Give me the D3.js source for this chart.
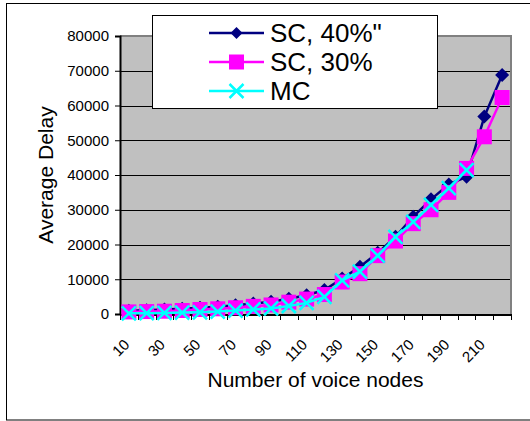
<!DOCTYPE html>
<html>
<head>
<meta charset="utf-8">
<script src="https://cdn.jsdelivr.net/npm/d3@7"></script>
<style>
  html, body { margin: 0; padding: 0; background: #fff; }
  svg { display: block; font-family: "Liberation Sans", Arial, sans-serif; }
</style>
</head>
<body>
<svg id="chart" width="530" height="421"></svg>
<script>
// ---- data ----
const categories = [10, 20, 30, 40, 50, 60, 70, 80, 90, 100, 110, 120, 130, 140, 150, 160, 170, 180, 190, 200, 210, 220];
const sc40 = [900, 1100, 1300, 1500, 1800, 2100, 2500, 3000, 3500, 4400, 5400, 6900, 10200, 13600, 17600, 22200, 28000, 33000, 37300, 39500, 56800, 68800];
const sc30 = [600, 700, 800, 1000, 1300, 1500, 1800, 2200, 2600, 3400, 4300, 5600, 9200, 11600, 16800, 21000, 26000, 30000, 35000, 41900, 51000, 62300];
const mc   = [200, 250, 300, 400, 500, 700, 1000, 1300, 1600, 2300, 3200, 4900, 9700, 12200, 16800, 22200, 26500, 31400, 36200, 41400, null, null];
const seriesNames = ['SC, 40%"', 'SC, 30%', 'MC'];
const yTicks = [0, 10000, 20000, 30000, 40000, 50000, 60000, 70000, 80000];
const xTickLabels = [10, 30, 50, 70, 90, 110, 130, 150, 170, 190, 210];

const series = [
  { name: seriesNames[0], values: sc40, color: '#000080', marker: 'diamond' },
  { name: seriesNames[1], values: sc30, color: '#FF00FF', marker: 'square' },
  { name: seriesNames[2], values: mc,   color: '#00FFFF', marker: 'x' }
];

const svg = d3.select('#chart');
const plot = { left: 120, right: 511, top: 36, bottom: 314 };

const x = d3.scaleBand().domain(categories).range([plot.left, plot.right]).padding(0);
const y = d3.scaleLinear().domain([0, 80000]).range([plot.bottom, plot.top]);
const cx = d => x(d) + x.bandwidth() / 2;

// outer frame
svg.append('rect').attr('x', 6.5).attr('y', 3.5).attr('width', 530).attr('height', 416.5)
  .attr('fill', '#fff').attr('stroke', '#000').attr('stroke-width', 1);

// plot background
svg.append('rect').attr('x', plot.left).attr('y', plot.top)
  .attr('width', plot.right - plot.left).attr('height', plot.bottom - plot.top)
  .attr('fill', '#C0C0C0');

// gridlines
svg.append('g').selectAll('line').data(yTicks.filter(t => t > 0 && t < 80000)).join('line')
  .attr('x1', plot.left).attr('x2', plot.right)
  .attr('y1', d => Math.round(y(d)) + 0.5).attr('y2', d => Math.round(y(d)) + 0.5)
  .attr('stroke', '#000').attr('stroke-width', 1);

// plot border top/right gray
svg.append('path')
  .attr('d', `M${plot.left},${plot.top} H${plot.right} V${plot.bottom}`)
  .attr('fill', 'none').attr('stroke', '#808080').attr('stroke-width', 2);

// y axis
const yAxis = d3.axisLeft(y).tickValues(yTicks).tickSize(5).tickPadding(6).tickFormat(d3.format('d'));
const yg = svg.append('g').attr('transform', `translate(${plot.left},0)`).call(yAxis);
yg.select('.domain').attr('stroke', '#000').attr('stroke-width', 2);
yg.selectAll('.tick line').attr('stroke', '#000');
yg.selectAll('.tick text').attr('font-size', 15).attr('fill', '#000')
  .attr('font-family', '"Liberation Sans", Arial, sans-serif');

// x axis line and ticks (ticks at category boundaries)
svg.append('line').attr('x1', plot.left).attr('x2', plot.right)
  .attr('y1', plot.bottom + 1).attr('y2', plot.bottom + 1)
  .attr('stroke', '#000').attr('stroke-width', 2);
const boundaries = categories.map(c => x(c)).concat([plot.right]);
svg.append('g').selectAll('line').data(boundaries).join('line')
  .attr('x1', d => Math.round(d) + 0.5).attr('x2', d => Math.round(d) + 0.5)
  .attr('y1', plot.bottom).attr('y2', plot.bottom + 6)
  .attr('stroke', '#000').attr('stroke-width', 1);

// x tick labels
svg.append('g').selectAll('text').data(xTickLabels).join('text')
  .attr('transform', d => `translate(${cx(d) - 6},${plot.bottom + 24}) rotate(-45)`)
  .attr('text-anchor', 'end').attr('dy', '0.71em')
  .attr('font-size', 15).attr('fill', '#000')
  .text(d => d);

// axis titles
svg.append('text').attr('x', (plot.left + plot.right) / 2).attr('y', 387)
  .attr('text-anchor', 'middle').attr('font-size', 21).attr('fill', '#000')
  .text('Number of voice nodes');
svg.append('text').attr('transform', `translate(53,175) rotate(-90)`)
  .attr('text-anchor', 'middle').attr('font-size', 21).attr('fill', '#000')
  .text('Average Delay');

// markers
function drawMarker(g, type, color, size) {
  const h = size / 2;
  if (type === 'diamond') {
    g.append('path').attr('d', `M0,${-h} L${h},0 L0,${h} L${-h},0 Z`).attr('fill', color);
  } else if (type === 'square') {
    g.append('rect').attr('x', -h).attr('y', -h).attr('width', size).attr('height', size).attr('fill', color);
  } else {
    g.append('path').attr('d', `M${-h},${-h} L${h},${h} M${-h},${h} L${h},${-h}`)
      .attr('stroke', color).attr('stroke-width', 2.5).attr('fill', 'none');
  }
}

const line = d3.line().defined(d => d.v != null).x(d => cx(d.c)).y(d => y(d.v));
const sizes = { diamond: 14, square: 15, x: 14 };

series.forEach(s => {
  const pts = categories.map((c, i) => ({ c, v: s.values[i] }));
  const g = svg.append('g');
  g.append('path').datum(pts).attr('d', line)
    .attr('fill', 'none').attr('stroke', s.color).attr('stroke-width', 2.5);
  pts.filter(p => p.v != null).forEach(p => {
    const mg = g.append('g').attr('transform', `translate(${cx(p.c)},${y(p.v)})`);
    drawMarker(mg, s.marker, s.color, sizes[s.marker]);
  });
});

// legend
const lg = svg.append('g');
lg.append('rect').attr('x', 152.5).attr('y', 15.5).attr('width', 285).attr('height', 93)
  .attr('fill', '#fff').attr('stroke', '#000').attr('stroke-width', 1);
const legendY = [33, 62, 91];
const legendMarkerSize = { diamond: 12, square: 15, x: 14 };
series.forEach((s, i) => {
  const yy = legendY[i];
  lg.append('line').attr('x1', 209).attr('x2', 264).attr('y1', yy).attr('y2', yy)
    .attr('stroke', s.color).attr('stroke-width', 2.5);
  const mg = lg.append('g').attr('transform', `translate(236.5,${yy})`);
  drawMarker(mg, s.marker, s.color, legendMarkerSize[s.marker]);
  lg.append('text').attr('x', 270).attr('y', yy).attr('dy', '0.35em')
    .attr('font-size', 26).attr('fill', '#000').text(s.name);
});
</script>
</body>
</html>
